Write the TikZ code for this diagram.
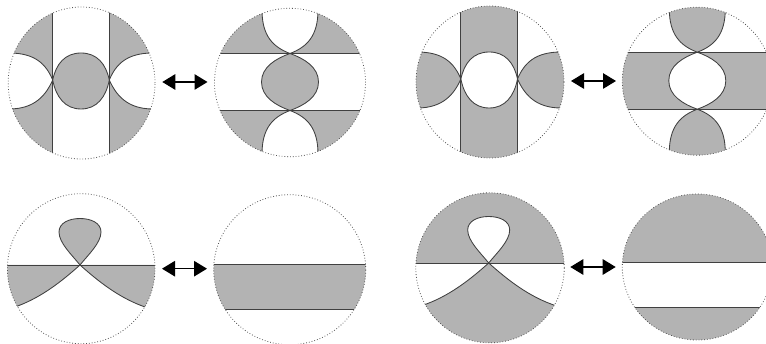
\documentclass[tikz,border=0pt]{standalone}
\usetikzlibrary{arrows.meta}
\definecolor{shade}{HTML}{B3B3B3}
\definecolor{rim}{HTML}{555555}
% curve pieces, in a panel's own coordinates
\def\lobeV{(-28.3,-1) .. controls (-25,-17) and (-16,-28) .. (0,-28) .. controls (16,-28) and (25,-17) .. (28.3,-1) .. controls (25,16) and (16,28) .. (0,28) .. controls (-16,28) and (-25,16) .. (-28.3,-1) -- cycle}
\def\armsV{(-72,-28) .. controls (-46,-28) and (-35,-17) .. (-28.3,-1) .. controls (-25,16) and (-16,28) .. (0,28) .. controls (16,28) and (25,16) .. (28.3,-1) .. controls (35,-17) and (46,-28) .. (72,-28)
 (-72,28) .. controls (-46,28) and (-35,14) .. (-28.3,-1) .. controls (-25,-17) and (-16,-28) .. (0,-28) .. controls (16,-28) and (25,-17) .. (28.3,-1) .. controls (35,14) and (46,28) .. (72,28)}
\def\cornerVt{(-85,-28) -- (-72,-28) .. controls (-46,-28) and (-35,-17) .. (-28.3,-1) -- (-28.3,-85) -- (-85,-85) -- cycle}
\def\cornerVb{(-85,28) -- (-72,28) .. controls (-46,28) and (-35,14) .. (-28.3,-1) -- (-28.3,85) -- (-85,85) -- cycle}
\def\wingV{(-85,-28) -- (-72,-28) .. controls (-46,-28) and (-35,-17) .. (-28.3,-1) .. controls (-35,14) and (-46,28) .. (-72,28) -- (-85,28) -- cycle}
\def\lobeH{(0,-28.5) .. controls (14,-23.5) and (28.5,-15) .. (28.5,0) .. controls (28.5,15) and (14,23.5) .. (0,28.5) .. controls (-14,23.5) and (-28.5,15) .. (-28.5,0) .. controls (-28.5,-15) and (-14,-23.5) .. (0,-28.5) -- cycle}
\def\armsH{(-28,-72) .. controls (-28,-46) and (-17,-35) .. (0,-28.5) .. controls (14,-23.5) and (28.5,-15) .. (28.5,0) .. controls (28.5,15) and (14,23.5) .. (0,28.5) .. controls (-17,35) and (-28,46) .. (-28,72)
 (28,-72) .. controls (28,-46) and (17,-35) .. (0,-28.5) .. controls (-14,-23.5) and (-28.5,-15) .. (-28.5,0) .. controls (-28.5,15) and (-14,23.5) .. (0,28.5) .. controls (17,35) and (28,46) .. (28,72)}
\def\cornerHt{(-85,-28.5) -- (0,-28.5) .. controls (-17,-35) and (-28,-46) .. (-28,-72) -- (-28,-85) -- (-85,-85) -- cycle}
\def\cornerHb{(-85,28.5) -- (0,28.5) .. controls (-17,35) and (-28,46) .. (-28,72) -- (-28,85) -- (-85,85) -- cycle}
\def\capHt{(-28,-85) -- (-28,-72) .. controls (-28,-46) and (-17,-35) .. (0,-28.5) .. controls (17,-35) and (28,-46) .. (28,-72) -- (28,-85) -- cycle}
\def\capHb{(-28,85) -- (-28,72) .. controls (-28,46) and (-17,35) .. (0,28.5) .. controls (17,35) and (28,46) .. (28,72) -- (28,85) -- cycle}
\def\loopL{(0,0) .. controls (-8,-10) and (-21,-22) .. (-21,-33) .. controls (-21,-42) and (-11,-46.5) .. (0,-46.5) .. controls (11,-46.5) and (21,-42) .. (21,-33) .. controls (21,-22) and (8,-10) .. (0,0) -- cycle}
\def\armsL{(-68,43) .. controls (-40,34) and (-18,16) .. (0,0) .. controls (18,16) and (40,34) .. (68,43)}
\def\wedgeL{(-85,0) -- (0,0) .. controls (-18,16) and (-40,34) .. (-68,43) -- (-85,43) -- cycle}
\tikzset{
  grayfill/.style={fill=shade,draw=none},
  edgeline/.style={draw=black!75,line width=.85pt},
  rimline/.style={draw=rim,line width=.8pt,dash pattern=on .8pt off 2pt},
  swap/.style={black,line width=1.2pt,{Triangle[length=13pt,width=15.5pt]}-{Triangle[length=13pt,width=15.5pt]}}
}
\begin{document}
\begin{tikzpicture}[x=1pt,y=-1pt]
\useasboundingbox (0,0) rectangle (766,344);
\clip (0,0) rectangle (766,344);

% panel 1
\begin{scope}[shift={(81,81)}]
  \def\disc{(0.6,2) ellipse [x radius=73.4pt,y radius=76pt]}
  \begin{scope}
    \clip \disc;
    \fill[grayfill] \cornerVt; \fill[grayfill] \cornerVb;
    \fill[grayfill,xscale=-1] \cornerVt; \fill[grayfill,xscale=-1] \cornerVb;
    \fill[grayfill] \lobeV;
    \draw[edgeline] (-28.3,-85) -- (-28.3,85) (28.3,-85) -- (28.3,85);
    \draw[edgeline] \armsV;
  \end{scope}
  \draw[rimline] \disc;
\end{scope}

% panel 2
\begin{scope}[shift={(290,82)}]
  \def\disc{(0,0.5) ellipse [x radius=75.5pt,y radius=74.2pt]}
  \begin{scope}
    \clip \disc;
    \fill[grayfill] \cornerHt; \fill[grayfill] \cornerHb;
    \fill[grayfill,xscale=-1] \cornerHt; \fill[grayfill,xscale=-1] \cornerHb;
    \fill[grayfill] \lobeH;
    \draw[edgeline] (-85,-28.5) -- (85,-28.5) (-85,28.5) -- (85,28.5);
    \draw[edgeline] \armsH;
  \end{scope}
  \draw[rimline] \disc;
\end{scope}

% panel 3
\begin{scope}[shift={(489.2,80)}]
  \def\disc{(0.8,2) ellipse [x radius=74pt,y radius=76pt]}
  \begin{scope}
    \clip \disc;
    \fill[grayfill,even odd rule] (-28.3,-85) rectangle (28.3,85) \lobeV;
    \fill[grayfill] \wingV;
    \fill[grayfill,xscale=-1] \wingV;
    \draw[edgeline] (-28.3,-85) -- (-28.3,85) (28.3,-85) -- (28.3,85);
    \draw[edgeline] \armsV;
  \end{scope}
  \draw[rimline] \disc;
\end{scope}

% panel 4
\begin{scope}[shift={(697.3,80.7)}]
  \def\disc{(0,0.5) ellipse [x radius=75pt,y radius=74pt]}
  \begin{scope}
    \clip \disc;
    \fill[grayfill,even odd rule] (-85,-28.5) rectangle (85,28.5) \lobeH;
    \fill[grayfill] \capHt;
    \fill[grayfill] \capHb;
    \draw[edgeline] (-85,-28.5) -- (85,-28.5) (-85,28.5) -- (85,28.5);
    \draw[edgeline] \armsH;
  \end{scope}
  \draw[rimline] \disc;
\end{scope}

% panel 5
\begin{scope}[shift={(80,265)}]
  \def\disc{(1.2,3.7) ellipse [x radius=73.8pt,y radius=75pt]}
  \begin{scope}
    \clip \disc;
    \fill[grayfill] \loopL;
    \fill[grayfill] \wedgeL;
    \fill[grayfill,xscale=-1] \wedgeL;
    \draw[edgeline] (-85,0) -- (85,0);
    \draw[edgeline] \loopL;
    \draw[edgeline] \armsL;
  \end{scope}
  \draw[rimline] \disc;
\end{scope}

% panel 6
\begin{scope}[shift={(289.7,264)}]
  \def\disc{(0,5.7) ellipse [x radius=76pt,y radius=75pt]}
  \begin{scope}
    \clip \disc;
    \fill[grayfill] (-85,0) rectangle (85,45.3);
    \draw[edgeline] (-85,0) -- (85,0) (-85,45.3) -- (85,45.3);
  \end{scope}
  \draw[rimline] \disc;
\end{scope}

% panel 7
\begin{scope}[shift={(488.7,263)}]
  \def\disc{(1.3,4.8) ellipse [x radius=74.2pt,y radius=75pt]}
  \begin{scope}
    \clip \disc;
    \fill[grayfill,even odd rule] (-85,-85) rectangle (85,0) \loopL;
    \fill[grayfill] (0,0) .. controls (18,16) and (40,34) .. (68,43) -- (85,43) -- (85,90) -- (-85,90) -- (-85,43) -- (-68,43) .. controls (-40,34) and (-18,16) .. (0,0) -- cycle;
    \draw[edgeline] (-85,0) -- (85,0);
    \draw[edgeline] \loopL;
    \draw[edgeline] \armsL;
  \end{scope}
  \draw[rimline] \disc;
\end{scope}

% panel 8
\begin{scope}[shift={(697.3,262)}]
  \def\disc{(0,5) ellipse [x radius=75pt,y radius=73pt]}
  \begin{scope}
    \clip \disc;
    \fill[grayfill] (-85,-85) rectangle (85,0);
    \fill[grayfill] (-85,45.7) rectangle (85,90);
    \draw[edgeline] (-85,0) -- (85,0) (-85,45.7) -- (85,45.7);
  \end{scope}
  \draw[rimline] \disc;
\end{scope}

% double arrows
\coordinate (a1l) at (162.3,82);  \coordinate (a1r) at (207.5,82);
\coordinate (a2l) at (571,81);    \coordinate (a2r) at (616,81);
\coordinate (a3l) at (162,268.7); \coordinate (a3r) at (207,268.7);
\coordinate (a4l) at (570.3,267); \coordinate (a4r) at (615.7,267);
\draw[swap] (a1l) -- (a1r);
\draw[swap] (a2l) -- (a2r);
\draw[swap] (a3l) -- (a3r);
\draw[swap] (a4l) -- (a4r);
\end{tikzpicture}
\end{document}
